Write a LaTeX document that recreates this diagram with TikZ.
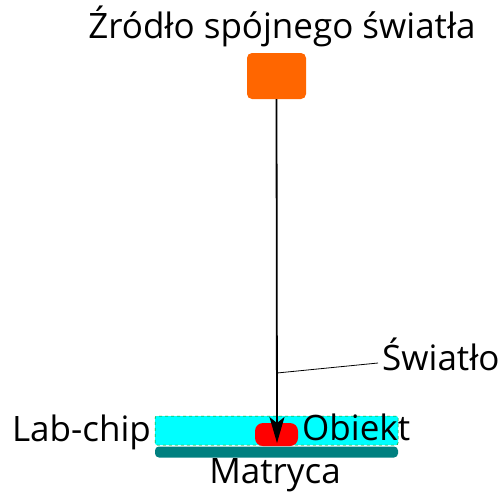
\documentclass[tikz,border=0pt]{standalone}
\usepackage{fontspec}
\setmainfont{Open Sans}
\usetikzlibrary{arrows.meta}
\definecolor{srcorange}{RGB}{255,102,0}
\definecolor{chipcyan}{RGB}{0,255,255}
\definecolor{matteal}{RGB}{0,128,128}
\begin{document}
\begin{tikzpicture}[x=1pt,y=-1pt,
  lbl/.style={font=\fontsize{35}{40}\selectfont, inner sep=0pt},
  block/.style={inner sep=0pt, draw=none},
]
\useasboundingbox (0,0) rectangle (502,493);
% title
\node[lbl, anchor=base] (title) at (282,38) {Źródło spójnego światła};
% light source
\node[block, fill=srcorange, rounded corners=5pt, minimum width=59pt, minimum height=46pt] (src) at (276.5,76) {};
% lab-chip and matrix
\node[block, fill=chipcyan, draw=green!60!black, dashed, line width=0.5pt, rounded corners=2pt, minimum width=243pt, minimum height=29pt] (chip) at (276.5,430.5) {};
\node[block, fill=matteal, rounded corners=4pt, minimum width=243pt, minimum height=11pt] (mat) at (276.5,452) {};
\node[block, fill=red, rounded corners=8pt, minimum width=43pt, minimum height=23pt] (obj) at (276.5,434.5) {};
% beam
\coordinate (hit) at (277,443);
\draw[line width=1.8pt, -{Stealth[length=26pt, width=15pt, inset=6pt]}] (src.south) -- (hit);
% labels
\coordinate (beampt) at (277,373);
\coordinate (lead) at (378,363);
\draw[line width=0.8pt] (beampt) -- (lead);
\node[lbl, anchor=base west] (swiatlo) at (382,370) {Światło};
\node[lbl, anchor=base east] (labchip) at (151,441) {Lab-chip};
\node[lbl, anchor=base west] (obiekt) at (302,440) {Obiekt};
\node[lbl, anchor=base] (matryca) at (275,483) {Matryca};
\end{tikzpicture}
\end{document}
